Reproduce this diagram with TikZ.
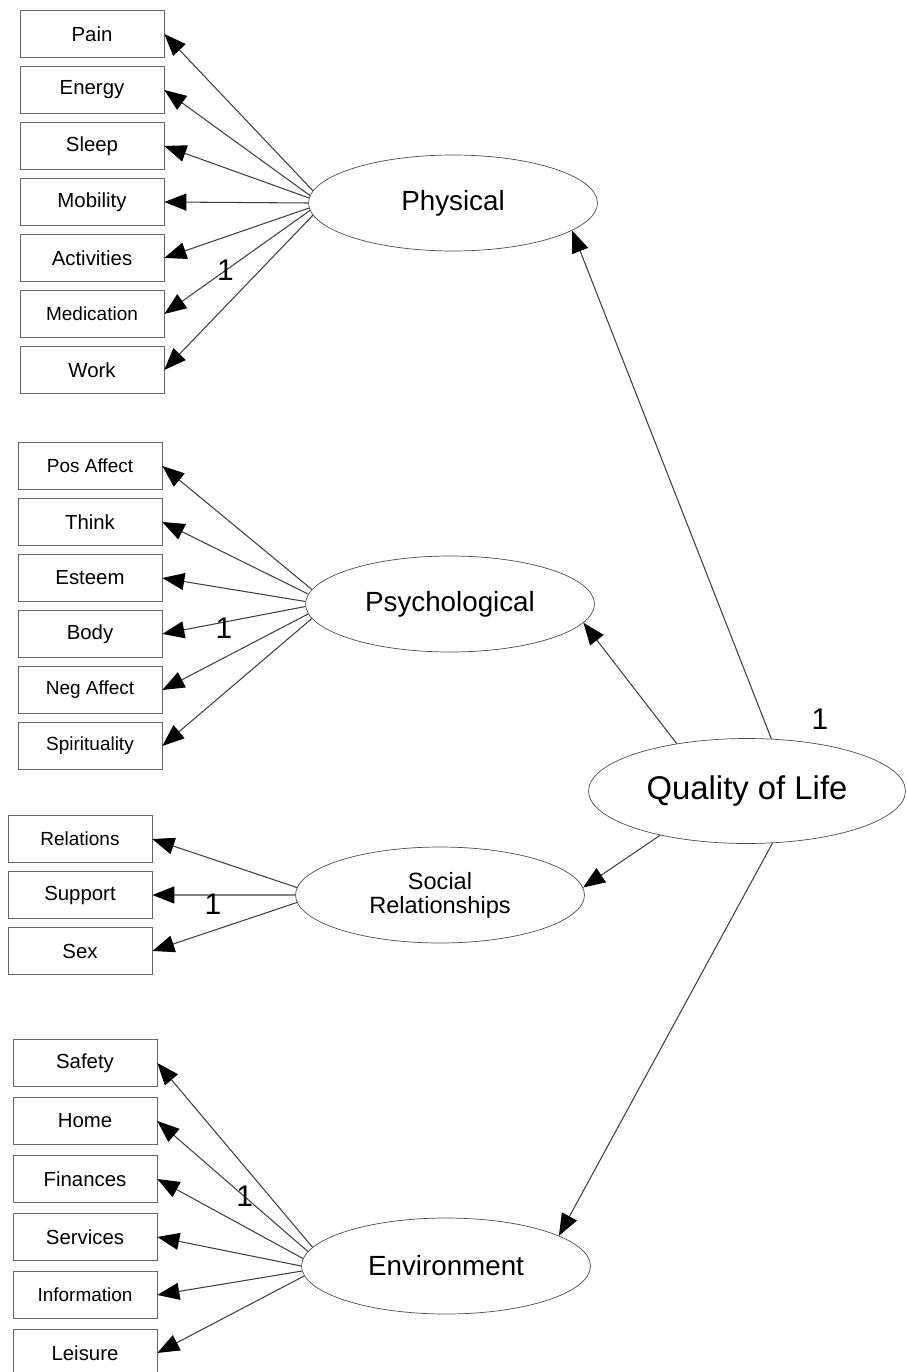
\documentclass[tikz,border=0pt]{standalone}
\usepackage{fontspec}
\setmainfont{Liberation Sans}
\usetikzlibrary{shapes.geometric, arrows.meta}
\tikzstyle{indicator} = [rectangle, minimum width=2.88cm, minimum height=0.94cm, inner sep=0pt, text centered, draw=black!60, font=\fontsize{11.6}{13}\selectfont]
\tikzstyle{smallindicator} = [indicator, font=\fontsize{10.8}{12}\selectfont]
\tikzstyle{factor} = [ellipse, minimum width=5.78cm, minimum height=1.92cm, inner sep=0pt, draw=black!70, font=\fontsize{15.8}{18}\selectfont]
\tikzstyle{arrow} = [draw=black!75, line width=0.6pt, -{Triangle[length=0.44cm, width=0.34cm, color=black]}]
\tikzstyle{loading} = [inner sep=0pt, font=\fontsize{17}{20}\selectfont]

\begin{document}
\begin{tikzpicture}[x=0.02cm, y=-0.02cm, node distance=1.12cm]
\useasboundingbox (0,0) rectangle (906,1372);

\node (qol) [factor, minimum width=6.34cm, minimum height=2.1cm, font=\fontsize{18.7}{22}\selectfont] at (747,791) {Quality of Life};
\node (qolone) [loading] at (820,719) {1};

\node (phys) [factor] at (453,203) {Physical};
\node (psych) [factor] at (450,604) {Psychological};
\node (soc) [factor, align=center, font=\fontsize{13.4}{13.6}\selectfont] at (440,895) {Social\\Relationships};
\node (env) [factor] at (446,1266) {Environment};

\node (pain) [indicator] at (92,34) {Pain};
\node (energy) [indicator, below of=pain] {Energy};
\node (sleep) [indicator, below of=energy] {Sleep};
\node (mobility) [indicator, below of=sleep] {Mobility};
\node (activities) [indicator, below of=mobility] {Activities};
\node (medication) [smallindicator, below of=activities] {Medication};
\node (work) [indicator, below of=medication] {Work};

\node (posaffect) [smallindicator] at (90,466) {Pos Affect};
\node (think) [indicator, below of=posaffect] {Think};
\node (esteem) [indicator, below of=think] {Esteem};
\node (body) [indicator, below of=esteem] {Body};
\node (negaffect) [smallindicator, below of=body] {Neg Affect};
\node (spirit) [smallindicator, below of=negaffect] {Spirituality};

\node (relations) [smallindicator] at (80,839) {Relations};
\node (support) [indicator, below of=relations] {Support};
\node (sex) [indicator, below of=support] {Sex};

\begin{scope}[node distance=1.16cm]
\node (safety) [indicator] at (85,1063) {Safety};
\node (home) [indicator, below of=safety] {Home};
\node (finances) [indicator, below of=home] {Finances};
\node (services) [indicator, below of=finances] {Services};
\node (information) [smallindicator, below of=services] {Information};
\node (leisure) [indicator, below of=information] {Leisure};
\end{scope}

\draw [arrow] (qol.65) -- (phys.-13);
\draw [arrow] (qol.146) -- (psych.-8);
\draw [arrow] (qol.207) -- (soc.3);
\draw [arrow] (qol.-64) -- (env.15);

\draw [arrow] (phys.175) -- (pain.east);
\draw [arrow] (phys.177) -- (energy.east);
\draw [arrow] (phys.178) -- (sleep.east);
\draw [arrow] (phys.180) -- (mobility.east);
\draw [arrow] (phys.182) -- (activities.east);
\draw [arrow] (phys.183) -- node[loading, pos=0.58] {1} (medication.east);
\draw [arrow] (phys.185) -- (work.east);

\draw [arrow] (psych.174) -- (posaffect.east);
\draw [arrow] (psych.176) -- (think.east);
\draw [arrow] (psych.179) -- (esteem.east);
\draw [arrow] (psych.181) -- node[loading, pos=0.57, yshift=-0.13cm] {1} (body.east);
\draw [arrow] (psych.184) -- (negaffect.east);
\draw [arrow] (psych.186) -- (spirit.east);

\draw [arrow] (soc.177) -- (relations.east);
\draw [arrow] (soc.180) -- node[loading, pos=0.575, yshift=-0.18cm] {1} (support.east);
\draw [arrow] (soc.183) -- (sex.east);

\draw [arrow] (env.172) -- (safety.east);
\draw [arrow] (env.174) -- node[loading, pos=0.42] {1} (home.east);
\draw [arrow] (env.177) -- (finances.east);
\draw [arrow] (env.180) -- (services.east);
\draw [arrow] (env.182) -- (information.east);
\draw [arrow] (env.184) -- (leisure.east);

\end{tikzpicture}
\end{document}
